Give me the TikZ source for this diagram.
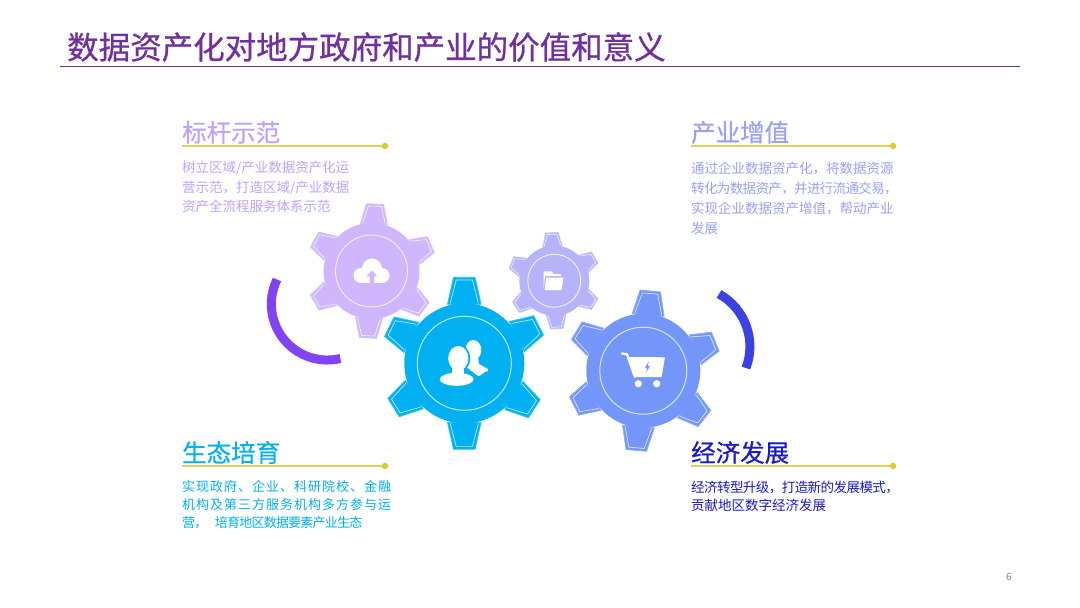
\documentclass[tikz,border=0pt]{standalone}
\usepackage{fontspec}
\setmainfont{Noto Sans CJK SC}
\newfontfamily\titlefont[FakeBold=0.8]{Noto Sans CJK SC}
\newfontfamily\headfont[FakeBold=0.5]{Noto Sans CJK SC}
\usetikzlibrary{positioning}
\definecolor{titlepurple}{HTML}{7030A0}
\definecolor{lilac}{HTML}{D0B6FC}
\definecolor{lilactext}{HTML}{C0A2FB}
\definecolor{peri}{HTML}{B6B4F9}
\definecolor{peritext}{HTML}{9C9FF8}
\definecolor{skyblue}{HTML}{00B0F0}
\definecolor{cornflower}{HTML}{7496F8}
\definecolor{deepblue}{HTML}{1A1ACB}
\definecolor{rulegold}{HTML}{DDD555}
\definecolor{dotgold}{HTML}{D6CB30}
\definecolor{arcpurple}{HTML}{8144F2}
\definecolor{arcblue}{HTML}{3A42E4}
\tikzset{
  headtext/.style={anchor=west,inner sep=0pt,font=\headfont\fontsize{24.5}{24.5}\selectfont},
  bodytext/.style={inner sep=0pt,align=left,font=\fontsize{13.5}{#1}\selectfont},
  goldrule/.style={draw=rulegold,line width=1.8pt},
  golddot/.style={fill=dotgold},
  arcband/.style={line width=9pt}
}
\newcommand{\spaced}[2]{{\addfontfeature{LetterSpace=#1}#2}}
% x y r(body) r(tooth) rotation colour r(ring)
\newcommand{\drawgear}[7]{
  \pgfmathsetmacro{\wb}{.28*#3}
  \pgfmathsetmacro{\wo}{.18*#3}
  \pgfmathsetmacro{\ins}{.045*#3}
  \begin{scope}[shift={(#1,#2)},rotate=#5]
    \foreach \a/\k in {0/1,-63/.97,-123/.97,180/1,122/.97,64/.97}{
      \pgfmathsetmacro{\rt}{\k*#4}
      \begin{scope}[rotate=\a]
        \filldraw[fill=#6,draw=#6!80!white,line width=.8pt,line join=round] (-\wb,-#3+1) -- (-\wo,-\rt) -- (\wo,-\rt) -- (\wb,-#3+1) -- cycle;
        \draw[white!75!#6,line width=.7pt] (-\wb+\ins,-#3) -- (-\wo+\ins,-\rt+\ins) -- (\wo-\ins,-\rt+\ins) -- (\wb-\ins,-#3);
      \end{scope}
    }
    \fill[#6] (0,0) circle[radius=#3pt];
    \draw[white!75!#6,line width=1pt] (0,0) circle[radius=#7pt];
  \end{scope}
}
\begin{document}
\begin{tikzpicture}[x=1pt,y=-1pt]
  \path[fill=white,use as bounding box] (0,0) rectangle (1080,608);

  % title
  \node[anchor=west,inner sep=0pt,text=titlepurple,font=\titlefont\fontsize{31.5}{31.5}\selectfont] (title) at (67,47) {数据资产化对地方政府和产业的价值和意义};
  \coordinate (titleL) at (60,66);
  \coordinate (titleR) at (1020,66);
  \draw[titlepurple,line width=1pt] (titleL) -- (titleR);

  % arcs
  \draw[arcpurple,arcband] (277,279.5) arc[start angle=154,end angle=283.5,radius=56pt];
  \draw[arcblue,arcband] (719,294) arc[start angle=61,end angle=-21,radius=60pt];

  % gears
  \drawgear{371.5}{271}{48}{67}{-3}{lilac}{36}
  \drawgear{554.3}{280.7}{35}{48}{3}{peri}{26.5}
  \drawgear{643.3}{370.7}{57}{80}{-5}{cornflower}{43.5}
  \drawgear{464.3}{363.3}{60}{86}{0}{skyblue}{47}

  % cloud icon
  \fill[white] (361,275.5) circle[radius=7.5pt] (372,268.5) circle[radius=10pt] (382,275.5) circle[radius=7.5pt];
  \fill[white] (361,273) rectangle (382,283);
  \fill[lilac] (371.7,270.5) -- (377,276.3) -- (374,276.3) -- (374,283) -- (369.5,283) -- (369.5,276.3) -- (366.5,276.3) -- cycle;

  % folder icon
  \fill[white] (543.5,289.5) -- (543.5,271.3) -- (551.5,271.3) -- (553.5,274) -- (561,274) -- (561,276) -- (545,276) -- cycle;
  \fill[white] (546.3,277.5) -- (563.5,277.5) -- (561.5,290) -- (544.5,290) -- cycle;

  % people icon
  \fill[white] (473.3,350) ellipse[x radius=8pt,y radius=10pt];
  \fill[white] (468,356) -- (478,356) -- (479,364) -- (487.8,369) to[out=90,in=0] (487.8,371) to[out=180,in=0] (478,376) -- (465,366) -- cycle;
  \filldraw[fill=white,draw=skyblue,line width=2pt] (458.3,358.3) ellipse[x radius=11pt,y radius=13pt];
  \fill[skyblue] (448,374) rectangle (472,384);
  \fill[white] (456.7,379.3) ellipse[x radius=17pt,y radius=6.5pt];
  \fill[white] (452,365) rectangle (464,378);
  \fill[white] (458.3,358.3) ellipse[x radius=10pt,y radius=12.3pt];

  % cart icon
  \fill[white] (629,357) -- (665,357.3) -- (661.5,377) -- (635,377) -- cycle;
  \draw[white,line width=2.4pt,line cap=round,line join=round] (622,353.5) -- (627,354.3) -- (635,377);
  \fill[white] (638.3,383.7) circle[radius=3.6pt] (656.7,383.7) circle[radius=3.6pt];
  \fill[cornflower] (648.8,361.5) -- (645,368) -- (647.2,368) -- (646,372.5) -- (650,366) -- (647.8,366) -- cycle;

  % top left
  \node[headtext,text=lilactext] (headBench) at (182,132.3) {标杆示范};
  \coordinate (ruleBench) at (182,146);
  \coordinate (dotBench) at (385,146);
  \draw[goldrule] (ruleBench) -- (dotBench);
  \fill[golddot] (dotBench) circle[radius=3.2pt];
  \node[bodytext=19.5,text=lilactext,below right=15pt and 0pt of ruleBench] (bodyBench) {树立区域/产业数据资产化运\\营示范，打造区域/产业数据\\资产全流程服务体系示范};

  % top right
  \node[headtext,text=peritext] (headValue) at (691,132.3) {产业增值};
  \coordinate (ruleValue) at (691,146);
  \coordinate (dotValue) at (893,146);
  \draw[goldrule] (ruleValue) -- (dotValue);
  \fill[golddot] (dotValue) circle[radius=3.2pt];
  \node[bodytext=19.8,text=peritext,below right=16pt and 0pt of ruleValue] (bodyValue) {通过企业数据资产化，将数据资源\\\spaced{-4.7}{转化为数据资产，并进行流通交易，}\\实现企业数据资产增值，帮动产业\\发展};

  % bottom left
  \node[headtext,text=skyblue] (headEco) at (182,452.5) {生态培育};
  \coordinate (ruleEco) at (182,466);
  \coordinate (dotEco) at (385,466);
  \draw[goldrule] (ruleEco) -- (dotEco);
  \fill[golddot] (dotEco) circle[radius=3.2pt];
  \node[bodytext=18,text=skyblue,below right=14.5pt and 0pt of ruleEco,font=\fontsize{13}{18}\selectfont] (bodyEco) {\spaced{7.7}{实现政府、企业、科研院校、金融}\\\spaced{7.7}{机构及第三方服务机构多方参与运}\\\spaced{-6}{营，\hspace{7.5pt}培育地区数据要素产业生态}};

  % bottom right
  \node[headtext,text=deepblue] (headDev) at (691,452.5) {经济发展};
  \coordinate (ruleDev) at (691,466);
  \coordinate (dotDev) at (893,466);
  \draw[goldrule] (ruleDev) -- (dotDev);
  \fill[golddot] (dotDev) circle[radius=3.2pt];
  \node[bodytext=18,text=deepblue,below right=14.5pt and 0pt of ruleDev] (bodyDev) {\spaced{-4.1}{经济转型升级，打造新的发展模式，}\\贡献地区数字经济发展};

  % page number
  \node[inner sep=0pt,text=gray,font=\fontsize{10}{10}\selectfont] (pageNo) at (1009,577) {6};
\end{tikzpicture}
\end{document}
